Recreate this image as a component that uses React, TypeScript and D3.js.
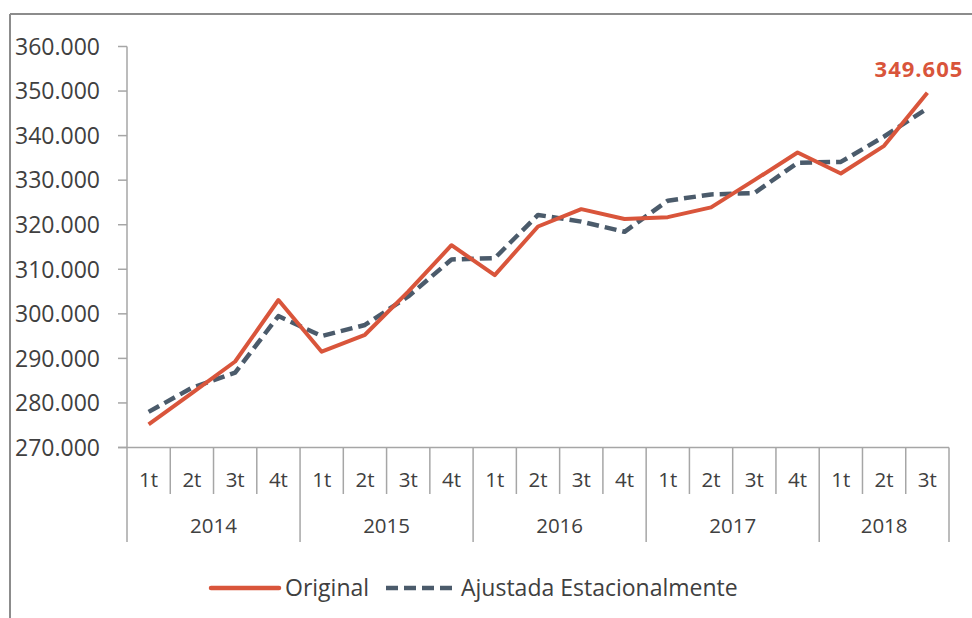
import React from "react";
import * as d3 from "d3";

const years = ["2014", "2015", "2016", "2017", "2018"];
const quarters = ["1t", "2t", "3t", "4t", "1t", "2t", "3t", "4t", "1t", "2t", "3t", "4t", "1t", "2t", "3t", "4t", "1t", "2t", "3t"];
const quarterYear = [0, 0, 0, 0, 1, 1, 1, 1, 2, 2, 2, 2, 3, 3, 3, 3, 4, 4, 4];
const original = [275.2, 282.2, 289.3, 303.1, 291.5, 295.3, 305.0, 315.4, 308.7, 319.6, 323.5, 321.3, 321.7, 323.9, 330.0, 336.2, 331.5, 337.7, 349.605];
const ajustada = [278.0, 283.4, 286.8, 299.5, 295.0, 297.5, 303.9, 312.2, 312.5, 322.2, 320.7, 318.4, 325.4, 326.8, 327.1, 333.9, 334.1, 339.8, 346.1];
const yTicks = [270, 280, 290, 300, 310, 320, 330, 340, 350, 360];
const seriesNames = ["Original", "Ajustada Estacionalmente"];
const lastLabel = "349.605";

const RED = "#D9553B";
const SLATE = "#4B5B6B";
const AXIS = "#A6A6A6";
const TXT = "#404040";
const FONT = "'Open Sans', 'Noto Sans', sans-serif";

export default function App() {
  const idx = quarters.map((_, i) => i);
  const x = d3.scaleBand<number>().domain(idx).range([127, 949]).padding(0);
  const y = d3.scaleLinear().domain([270, 360]).range([447.5, 46.5]);
  const cx = (i: number) => (x(i) as number) + x.bandwidth() / 2;
  const line = d3.line<number>().x((_, i) => cx(i)).y((v) => y(v));
  const yLabel = (v: number) => `${v}.000`;

  const boundaries = d3.range(quarters.length + 1);
  const isYearBoundary = (b: number) => b === 0 || b === quarters.length || quarterYear[b] !== quarterYear[b - 1];

  const yearSpans = years.map((yr, k) => {
    const members = idx.filter((i) => quarterYear[i] === k);
    const x0 = x(members[0]) as number;
    const x1 = (x(members[members.length - 1]) as number) + x.bandwidth();
    return { yr, mid: (x0 + x1) / 2 };
  });

  const last = original.length - 1;

  return (
    <svg width={972} height={618} style={{ position: "absolute", left: 0, top: 0, background: "#fff" }} fontFamily={FONT}>
      <rect x={0} y={0} width={972} height={618} fill="#fff" />
      {/* outer frame */}
      <line x1={10} y1={14} x2={972} y2={14} stroke="#8C8C8C" strokeWidth={2} />
      <line x1={10} y1={14} x2={10} y2={618} stroke="#8C8C8C" strokeWidth={2} />

      {/* y axis */}
      <line x1={127} y1={y(360)} x2={127} y2={y(270)} stroke={AXIS} strokeWidth={1.5} />
      {yTicks.map((t) => (
        <g key={t}>
          <line x1={118} x2={127} y1={y(t)} y2={y(t)} stroke={AXIS} strokeWidth={1.5} />
          <text x={100} y={y(t)} dy="0.36em" textAnchor="end" fontSize={23} fill={TXT}>
            {yLabel(t)}
          </text>
        </g>
      ))}

      {/* x axis */}
      <line x1={118} x2={949} y1={y(270)} y2={y(270)} stroke={AXIS} strokeWidth={1.5} />
      {boundaries.map((b) => {
        const bx = b === quarters.length ? 949 : (x(b) as number);
        return (
          <line key={b} x1={bx} x2={bx} y1={y(270)} y2={isYearBoundary(b) ? 542 : 494} stroke={AXIS} strokeWidth={1.5} />
        );
      })}
      {quarters.map((q, i) => (
        <text key={i} x={cx(i)} y={480} dy="0.36em" textAnchor="middle" fontSize={20.5} fill={TXT}>
          {q}
        </text>
      ))}
      {yearSpans.map((s) => (
        <text key={s.yr} x={s.mid} y={526} dy="0.36em" textAnchor="middle" fontSize={20.5} fill={TXT}>
          {s.yr}
        </text>
      ))}

      {/* series */}
      <path d={line(ajustada) || ""} fill="none" stroke={SLATE} strokeWidth={4.5} strokeDasharray="12 6" strokeLinejoin="round" />
      <path d={line(original) || ""} fill="none" stroke={RED} strokeWidth={4} strokeLinejoin="round" />

      <text x={cx(last) + 36} y={y(original[last]) - 24} dy="0.36em" textAnchor="end" fontSize={22} fontWeight="bold" fill={RED} letterSpacing={1}>
        {lastLabel}
      </text>

      {/* legend */}
      <line x1={211} x2={279} y1={588} y2={588} stroke={RED} strokeWidth={4.5} strokeLinecap="round" />
      <text x={285} y={588} dy="0.36em" fontSize={23} fill={TXT}>{seriesNames[0]}</text>
      <line x1={386} x2={456} y1={588} y2={588} stroke={SLATE} strokeWidth={4.5} strokeDasharray="12 6" />
      <text x={461} y={588} dy="0.36em" fontSize={23} fill={TXT}>{seriesNames[1]}</text>
    </svg>
  );
}
